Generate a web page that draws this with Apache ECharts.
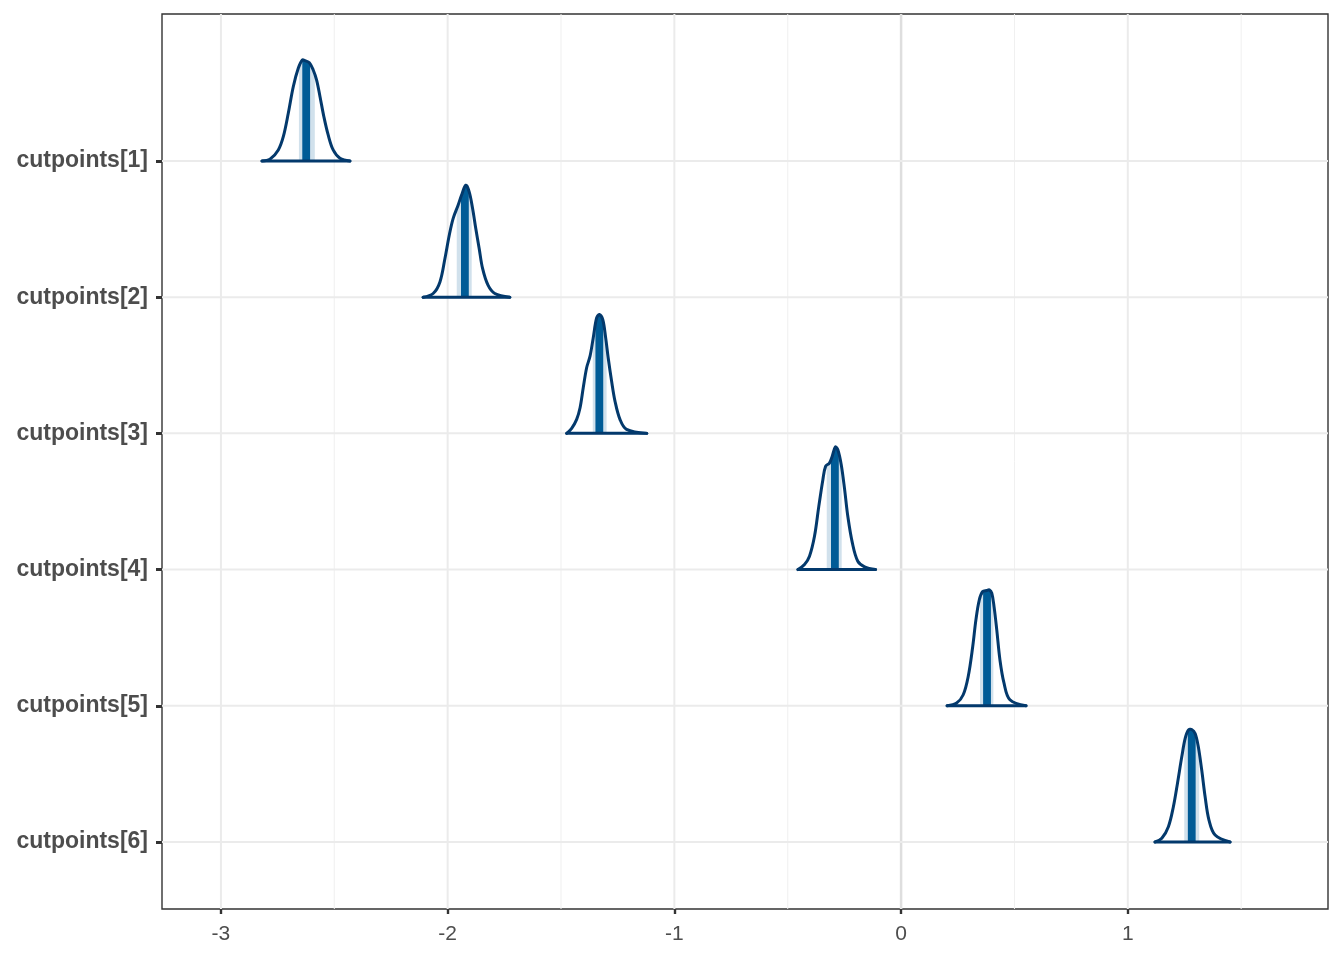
<!DOCTYPE html>
<html><head><meta charset="utf-8">
<script src="https://cdn.jsdelivr.net/npm/echarts@6/dist/echarts.min.js"></script>
<style>html,body{margin:0;padding:0;background:#fff}#c{width:1344px;height:960px}</style>
</head><body><div id="c"></div>
<script>
// ---- data ----
const paramNames = ['cutpoints[1]','cutpoints[2]','cutpoints[3]','cutpoints[4]','cutpoints[5]','cutpoints[6]'];
const rowPos = [6,5,4,3,2,1];
const xTicks = [-3,-2,-1,0,1];
const xMinorTicks = [-2.5,-1.5,-0.5,0.5,1.5];
const yTicks = [1,2,3,4,5,6];
const medians = [-2.624,-1.924,-1.331,-0.292,0.379,1.282];
const intervalLo = [-2.656,-1.960,-1.360,-0.328,0.348,1.249];
const intervalHi = [-2.586,-1.894,-1.299,-0.262,0.407,1.315];
const dens1 = [[-2.819,0],[-2.784,0.012],[-2.747,0.081],[-2.725,0.178],[-2.703,0.350],[-2.681,0.545],[-2.659,0.680],[-2.641,0.741],[-2.629,0.736],[-2.610,0.721],[-2.593,0.668],[-2.578,0.594],[-2.563,0.472],[-2.546,0.325],[-2.527,0.191],[-2.505,0.081],[-2.475,0.020],[-2.431,0]];
const dens2 = [[-2.108,0],[-2.064,0.027],[-2.034,0.112],[-2.012,0.284],[-1.993,0.455],[-1.976,0.577],[-1.954,0.675],[-1.939,0.748],[-1.920,0.822],[-1.905,0.773],[-1.890,0.651],[-1.876,0.504],[-1.861,0.358],[-1.846,0.211],[-1.822,0.088],[-1.792,0.027],[-1.726,0]];
const dens3 = [[-1.475,0],[-1.453,0.037],[-1.431,0.103],[-1.416,0.188],[-1.402,0.335],[-1.387,0.482],[-1.372,0.567],[-1.358,0.701],[-1.343,0.848],[-1.331,0.873],[-1.316,0.836],[-1.303,0.701],[-1.292,0.555],[-1.277,0.384],[-1.262,0.237],[-1.240,0.103],[-1.211,0.029],[-1.122,0]];
const dens4 = [[-0.455,0],[-0.426,0.037],[-0.404,0.098],[-0.382,0.244],[-0.363,0.464],[-0.345,0.660],[-0.333,0.758],[-0.316,0.782],[-0.304,0.831],[-0.290,0.900],[-0.279,0.880],[-0.264,0.770],[-0.249,0.587],[-0.235,0.391],[-0.215,0.196],[-0.191,0.061],[-0.161,0.020],[-0.113,0]];
const dens5 = [[0.203,0],[0.245,0.020],[0.274,0.081],[0.296,0.215],[0.316,0.435],[0.330,0.631],[0.345,0.778],[0.360,0.839],[0.378,0.846],[0.389,0.851],[0.400,0.826],[0.410,0.728],[0.422,0.557],[0.436,0.337],[0.454,0.166],[0.480,0.044],[0.551,0]];
const dens6 = [[1.120,0],[1.150,0.027],[1.179,0.112],[1.201,0.259],[1.219,0.430],[1.238,0.625],[1.253,0.760],[1.267,0.821],[1.282,0.826],[1.297,0.797],[1.311,0.699],[1.326,0.528],[1.341,0.332],[1.358,0.161],[1.385,0.051],[1.451,0]];
const densities = [dens1,dens2,dens3,dens4,dens5,dens6];

// ---- styles ----
const C_OUTLINE = '#03396c', C_BAND = '#d1e1ec', C_MED = '#005b96';
const C_GRID = '#ebebeb', C_TEXT = '#4d4d4d', C_TICK = '#333333';
const FONT = 'Liberation Sans, Arial, Helvetica, sans-serif';

function interp(d, x) {
  for (let k = 0; k < d.length - 1; k++) {
    const a = d[k], b = d[k+1];
    if (x >= a[0] && x <= b[0]) return a[1] + (b[1]-a[1])*(x-a[0])/(b[0]-a[0]);
  }
  return 0;
}
function areaPts(d, base, lo, hi, api) {
  const pts = [api.coord([lo, base]), api.coord([lo, base + interp(d, lo)])];
  d.forEach(p => { if (p[0] > lo && p[0] < hi) pts.push(api.coord([p[0], base + p[1]])); });
  pts.push(api.coord([hi, base + interp(d, hi)]));
  pts.push(api.coord([hi, base]));
  return pts;
}

function vGrid(color, width, zeroColor, zeroWidth) {
  return function (params, api) {
    const v = api.value(0);
    const x = api.coord([v, 1])[0];
    const cs = params.coordSys;
    const isZero = Math.abs(v) < 1e-9 && zeroColor;
    return {type:'line', shape:{x1:x, y1:cs.y, x2:x, y2:cs.y+cs.height},
      style:{stroke: isZero ? zeroColor : color, lineWidth: isZero ? zeroWidth : width}};
  };
}

const chart = echarts.init(document.getElementById('c'), null, {renderer:'canvas'});
chart.setOption({
  animation: false,
  backgroundColor: '#ffffff',
  grid: {left:162, right:16, top:14, bottom:51, show:true, borderColor:'#333333', borderWidth:1.4, backgroundColor:'#ffffff', containLabel:false},
  xAxis: {
    type:'value', min:-3.26, max:1.883,
    axisLine:{show:false, onZero:false},
    splitLine:{show:false},
    axisTick:{show:true, customValues:xTicks, length:5, inside:false, lineStyle:{color:C_TICK, width:2.4}},
    axisLabel:{show:true, customValues:xTicks, color:C_TEXT, fontSize:21, fontFamily:FONT, margin:15,
      formatter: v => String(v)}
  },
  yAxis: {
    type:'value', min:0.508, max:7.079,
    axisLine:{show:false, onZero:false},
    splitLine:{show:false},
    axisTick:{show:true, customValues:yTicks, length:6, inside:false, lineStyle:{color:C_TICK, width:3}},
    axisLabel:{show:true, customValues:yTicks, color:C_TEXT, fontSize:23, fontWeight:'bold', fontFamily:FONT, margin:14,
      verticalAlign:'middle', lineHeight:23, padding:[5,0,0,0],
      formatter: v => paramNames[rowPos.indexOf(Math.round(v))]}
  },
  series: [
    {type:'custom', name:'minorGrid', z:1, silent:true, encode:{x:0},
      data: xMinorTicks.map(v => [v]), renderItem: vGrid('#f0f0f0', 1)},
    {type:'custom', name:'majorGrid', z:1, silent:true, encode:{x:0},
      data: xTicks.map(v => [v]), renderItem: vGrid(C_GRID, 2, '#dedede', 2.5)},
    {type:'custom', name:'hGrid', z:1, silent:true, encode:{y:0},
      data: yTicks.map(v => [v]),
      renderItem: function (params, api) {
        const y = api.coord([0, api.value(0)])[1];
        const cs = params.coordSys;
        return {type:'line', shape:{x1:cs.x, y1:y, x2:cs.x+cs.width, y2:y}, style:{stroke:C_GRID, lineWidth:2}};
      }},
    {type:'custom', name:'ridges', z:5, silent:true, encode:{x:0, y:1},
      data: medians.map((m, i) => [m, rowPos[i]]),
      renderItem: function (params, api) {
        const i = params.dataIndex;
        const d = densities[i], base = rowPos[i];
        const unit = api.size([1, 0])[0];
        const hw = 3.9 / unit;
        const band = areaPts(d, base, intervalLo[i], intervalHi[i], api);
        const bar = areaPts(d, base, medians[i] - hw, medians[i] + hw, api);
        const curve = d.map(p => api.coord([p[0], base + p[1]]));
        const b0 = api.coord([d[0][0], base]), b1 = api.coord([d[d.length-1][0], base]);
        return {type:'group', children:[
          {type:'polygon', shape:{points:band}, style:{fill:C_BAND, stroke:null}},
          {type:'polygon', shape:{points:bar}, style:{fill:C_MED, stroke:null}},
          {type:'polyline', shape:{points:curve, smooth:0.35}, style:{fill:null, stroke:C_OUTLINE, lineWidth:3, lineJoin:'round', lineCap:'round'}},
          {type:'line', shape:{x1:b0[0], y1:b0[1], x2:b1[0], y2:b1[1]}, style:{stroke:C_OUTLINE, lineWidth:3, lineCap:'round'}}
        ]};
      }}
  ]
});
</script>
</body></html>
